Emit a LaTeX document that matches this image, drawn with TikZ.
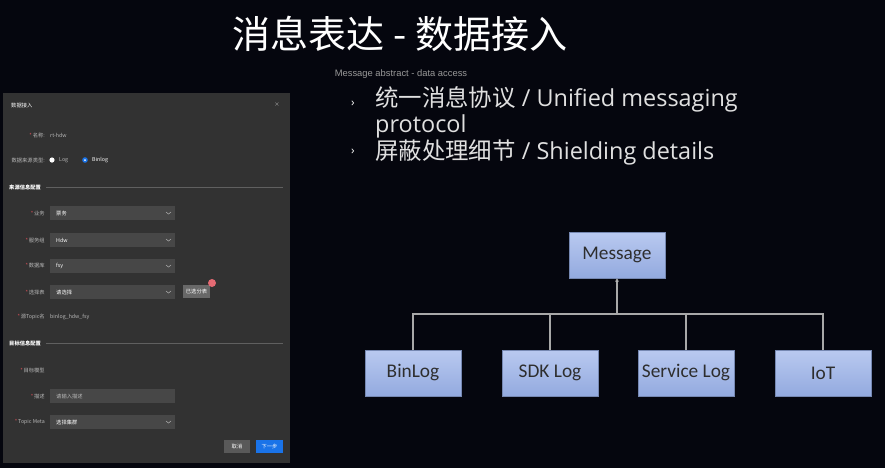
\documentclass[tikz,border=0pt]{standalone}
\usepackage{fontspec}
\setmainfont{Open Sans}
\newfontfamily\cjk{Noto Sans CJK SC}
\newfontfamily\boxfont{Carlito}
\newfontfamily\arialfont{Liberation Sans}
\usetikzlibrary{arrows.meta,positioning}
\definecolor{bgnavy}{HTML}{05060E}
\definecolor{dlgbg}{HTML}{323232}
\definecolor{fieldbg}{HTML}{474747}
\definecolor{lblgray}{HTML}{B8B8B8}
\definecolor{starred}{HTML}{E0505A}
\definecolor{okblue}{HTML}{1A73E8}
\definecolor{boxtop}{HTML}{B9C9F0}
\definecolor{boxbot}{HTML}{93AADF}
\definecolor{linkgray}{HTML}{A8A8A8}
\tikzset{
  dlgfont/.style={font=\cjk\fontsize{4.5}{5}\selectfont},
  lbl/.style={dlgfont,anchor=east,text=lblgray},
  fieldbox/.style={fill=fieldbg,minimum width=3.75cm,minimum height=0.42cm,anchor=west},
  fieldval/.style={dlgfont,anchor=west,text=white},
  sechead/.style={font=\cjk\fontsize{4.5}{5}\selectfont\bfseries,anchor=west,text=white},
  divider/.style={draw=gray!60!dlgbg,line width=0.4pt},
  bullettext/.style={anchor=base west,font=\fontsize{20}{26.5}\selectfont,text=white!88!black},
  msgbox/.style={top color=boxtop,bottom color=boxbot,draw=boxbot!80!black,line width=0.3pt,
    minimum width=2.88cm,minimum height=1.38cm,font=\boxfont\fontsize{16.5}{17}\selectfont,text=black!82},
  link/.style={draw=linkgray,line width=1.3pt}
}
\begin{document}
\begin{tikzpicture}[x=0.03cm,y=-0.03cm, every node/.style={inner sep=0pt}]
  \useasboundingbox[fill=bgnavy] (0,0) rectangle (885,468);

  % dialog screenshot
  \fill[dlgbg] (3,93) rectangle (290,463);
  \node[dlgfont,anchor=west,text=white] (dlgtitle) at (11,105) {数据接入};
  \node[dlgfont,text=lblgray] (dlgclose) at (277,105) {×};
  \node[lbl] (namelbl) at (45,135) {\textcolor{starred}{*}\,名称:};
  \node[fieldval,text=lblgray] (nameval) at (50,135) {rt-hdw};
  \node[lbl] (srclbl) at (45,160) {数据来源类型:};
  \fill[white] (52,160) circle (2.6);
  \node[fieldval,text=lblgray] (loglbl) at (59,160) {Log};
  \fill[okblue] (85,160) circle (2.8);
  \fill[white] (85,160) circle (1);
  \node[fieldval] (binloglbl) at (92,160) {Binlog};

  % source section
  \node[sechead] (srchead) at (9,187) {来源信息配置};
  \draw[divider] ([xshift=4pt]srchead.east) -- (283,187);
  \foreach \y/\lbl/\val/\nm in {213/业务/票务/biz,240/服务组/Hdw/grp,266/数据库/fsy/db,292/选择表/请选择/tbl,422/Topic Meta/选择集群/meta} {
    \node[lbl] (\nm lbl) at (45,\y) {\textcolor{starred}{*}\,\lbl};
    \node[fieldbox] (\nm box) at (50,\y) {};
    \node[fieldval] (\nm val) at (56,\y) {\val};
    \draw[lblgray,line width=0.4pt] (166,\y-1) -- (168.5,\y+1) -- (171,\y-1);
  }
  \node[fill=gray!70!dlgbg,minimum width=0.81cm,minimum height=0.39cm,dlgfont,text=white] (pickbtn) at (196.5,291.5) {已选分表};
  \fill[starred!85!white] (212,283) circle (4);
  \node[lbl] (topiclbl) at (45,317) {\textcolor{starred}{*}\,源Topic名};
  \node[fieldval,text=lblgray] (topicval) at (50,317) {binlog\_hdw\_fsy};

  % target section
  \node[sechead] (dsthead) at (9,343) {目标信息配置};
  \draw[divider] ([xshift=4pt]dsthead.east) -- (283,343);
  \node[lbl] (modellbl) at (45,370) {\textcolor{starred}{*}\,目标模型};
  \node[lbl] (desclbl) at (45,396) {\textcolor{starred}{*}\,描述};
  \node[fieldbox] (descbox) at (50,396) {};
  \node[fieldval,text=lblgray] (descval) at (56,396) {请输入描述};
  \node[fill=fieldbg!90!white,minimum width=0.78cm,minimum height=0.39cm,dlgfont,text=white] (cancelbtn) at (237,446) {取消};
  \node[fill=okblue,minimum width=0.81cm,minimum height=0.39cm,dlgfont,text=white] (nextbtn) at (269.5,446) {下一步};

  % title
  \node[font=\cjk\fontsize{32.5}{38}\selectfont,text=white] (title) at (400,34) {消息表达 - 数据接入};
  \node[font=\arialfont\fontsize{8}{9}\selectfont,text=gray!80!white] (subtitle) at (401,74) {Message abstract - data access};

  % bullets
  \foreach \y/\nm in {104/bulA,152/bulB} \node[font=\fontsize{10}{10}\selectfont,text=white] (\nm) at (353,\y) {›};
  \node[bullettext] (lineA) at (375,106) {{\cjk 统一消息协议} / Unified messaging};
  \node[bullettext] (lineAA) at (375,132) {protocol};
  \node[bullettext] (lineB) at (375,159) {{\cjk 屏蔽处理细节} / Shielding details};

  % hierarchy
  \node[msgbox] (msg) at (617,255) {Message};
  \coordinate (bus) at (617,314);
  \foreach \x/\nm/\txt in {413/binlog/BinLog,550/sdk/SDK Log,686/svc/Service Log,823/iot/IoT} {
    \node[msgbox] (\nm) at (\x,373) {\txt};
    \draw[link] (\nm.north) |- (bus);
  }
  \draw[link,-{Triangle[open,length=3pt,width=3pt,fill=white]}] (bus) -- (msg.south);
\end{tikzpicture}
\end{document}
